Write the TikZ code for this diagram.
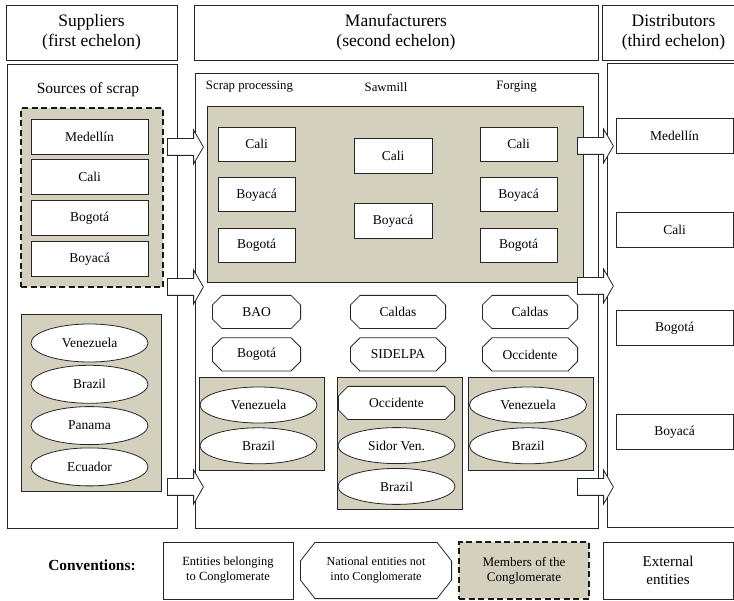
\documentclass[tikz,border=0pt]{standalone}
\usepackage{fontspec}
\setmainfont{Liberation Serif}
\usetikzlibrary{shapes.geometric, shapes.arrows, positioning}
\definecolor{memberfill}{RGB}{212,208,190}
\def\octx{10pt}
\def\octy{10pt}
\tikzset{
    echelon/.style={
        rectangle,
        draw=black!85,
        line width=0.8pt,
        minimum height=55pt,
        align=center,
        font=\fontsize{17.5}{20}\selectfont
    },
    panel/.style={
        rectangle,
        draw=black!85,
        line width=0.8pt,
        anchor=north west
    },
    member/.style={
        rectangle,
        draw=black!85,
        fill=memberfill,
        line width=0.8pt,
        anchor=north west
    },
    core/.style={
        line width=2.2pt,
        draw=black!90,
        dash pattern=on 6pt off 3.5pt
    },
    entity/.style={
        rectangle,
        draw=black!85,
        fill=white,
        line width=0.8pt,
        minimum width=117pt,
        minimum height=35pt,
        inner sep=0pt,
        align=center,
        font=\fontsize{13.5}{15}\selectfont
    },
    plant/.style={
        entity,
        minimum width=77pt,
        minimum height=34pt
    },
    octcut/.code 2 args={\def\octx{#1}\def\octy{#2}},
    national/.style={
        rectangle,
        minimum height=34pt,
        inner sep=0pt,
        align=center,
        font=\fontsize{13.5}{15}\selectfont,
        octcut={10pt}{10pt},
        path picture={
            \draw[draw=black!85, fill=white, line width=0.8pt]
                ([shift={(\octx,-0.4pt)}]path picture bounding box.north west)
                -- ([shift={(0.4pt,-\octy)}]path picture bounding box.north west)
                -- ([shift={(0.4pt,\octy)}]path picture bounding box.south west)
                -- ([shift={(\octx,0.4pt)}]path picture bounding box.south west)
                -- ([shift={(-\octx,0.4pt)}]path picture bounding box.south east)
                -- ([shift={(-0.4pt,\octy)}]path picture bounding box.south east)
                -- ([shift={(-0.4pt,-\octy)}]path picture bounding box.north east)
                -- ([shift={(-\octx,-0.4pt)}]path picture bounding box.north east)
                -- cycle;
        }
    },
    foreign/.style={
        ellipse,
        draw=black!85,
        fill=white,
        line width=0.8pt,
        minimum width=117pt,
        minimum height=38pt,
        inner sep=0pt,
        font=\fontsize{13.5}{15}\selectfont
    },
    colhead/.style={
        font=\fontsize{12.8}{15}\selectfont
    },
    flow/.style={
        single arrow,
        draw=black!85,
        fill=white,
        line width=0.8pt,
        inner xsep=0pt,
        inner ysep=8pt,
        minimum height=36pt,
        single arrow head extend=8.5pt,
        single arrow tip angle=120,
        anchor=tail
    },
}

\begin{document}
\begin{tikzpicture}[x=1pt, y=-1pt]

\useasboundingbox (0,0) rectangle (734,601);

% Echelon titles
\node[echelon, minimum width=171pt] (supTitle) at (91.5,32.5) {Suppliers\\(first echelon)};
\node[echelon, minimum width=404pt] (manTitle) at (396,32.5) {Manufacturers\\(second echelon)};
\node[echelon, minimum width=143pt] (disTitle) at (673.5,32.5) {Distributors\\(third echelon)};

% Echelon panels
\node[panel, minimum width=170pt, minimum height=464pt] (supPanel) at (7,64) {};
\node[panel, minimum width=403pt, minimum height=455pt] (manPanel) at (195,73) {};
\node[panel, minimum width=140pt, minimum height=464pt] (disPanel) at (607,63) {};

% Suppliers
\node[font=\fontsize{15.5}{18}\selectfont] (scrapSrc) at (88,90) {Sources of scrap};

\node[member, core, minimum width=142pt, minimum height=179pt] (supMembers) at (20,107) {};
\node[entity] (supMed) at (89.5,136.5) {Medellín};
\node[entity, below=5pt of supMed] (supCal) {Cali};
\node[entity, below=5pt of supCal] (supBog) {Bogotá};
\node[entity, below=5pt of supBog] (supBoy) {Boyacá};

\node[member, minimum width=140pt, minimum height=177pt] (supAbroad) at (21,314) {};
\node[foreign] (supVen) at (89.5,343) {Venezuela};
\node[foreign, below=2.5pt of supVen] (supBra) {Brazil};
\node[foreign, below=2.5pt of supBra] (supPan) {Panama};
\node[foreign, below=2.5pt of supPan] (supEcu) {Ecuador};

% Manufacturers
\node[colhead] (colScrap) at (249.5,87) {Scrap processing};
\node[colhead] (colSaw) at (386,87) {Sawmill};
\node[colhead] (colForge) at (516.5,87) {Forging};

\node[member, minimum width=376pt, minimum height=176pt] (manMembers) at (207,106) {};

% Scrap processing
\node[plant] (scrCal) at (256.5,144) {Cali};
\node[plant, below=16pt of scrCal] (scrBoy) {Boyacá};
\node[plant, below=16pt of scrBoy] (scrBog) {Bogotá};

% Sawmill
\node[plant, minimum width=78pt, minimum height=35pt] (sawCal) at (393,155.5) {Cali};
\node[plant, minimum width=78pt, minimum height=35pt, below=30pt of sawCal] (sawBoy) {Boyacá};

% Forging
\node[plant] (frgCal) at (518.5,144) {Cali};
\node[plant, below=16pt of frgCal] (frgBoy) {Boyacá};
\node[plant, below=16pt of frgBoy] (frgBog) {Bogotá};

% National plants
\node[national, minimum width=89pt] (scrBAO) at (256.5,312) {BAO};
\node[national, minimum width=89pt, below=8pt of scrBAO] (scrBogN) {Bogotá};
\node[national, minimum width=96pt] (sawCald) at (398,312) {Caldas};
\node[national, minimum width=96pt, below=8pt of sawCald] (sawSid) {SIDELPA};
\node[national, minimum width=96pt] (frgCald) at (530,312) {Caldas};
\node[national, minimum width=96pt, below=8pt of frgCald] (frgOcc) {Occidente};

% Plants abroad
\node[member, minimum width=125pt, minimum height=93pt] (scrAbroad) at (199,377) {};
\node[member, minimum width=125pt, minimum height=132pt] (sawAbroad) at (337,377) {};
\node[member, minimum width=125pt, minimum height=93pt] (frgAbroad) at (468,377) {};

\node[foreign, minimum height=36pt] (scrVen) at (258.5,405) {Venezuela};
\node[foreign, minimum height=36pt, below=4pt of scrVen] (scrBra) {Brazil};

\node[national, minimum width=117pt] (sawOcc) at (396.5,403) {Occidente};
\node[foreign, minimum height=36pt, below=7pt of sawOcc] (sawSidV) {Sidor Ven.};
\node[foreign, minimum height=36pt, below=4pt of sawSidV] (sawBra) {Brazil};

\node[foreign, minimum height=36pt] (frgVen) at (528,405) {Venezuela};
\node[foreign, minimum height=36pt, below=4pt of frgVen] (frgBra) {Brazil};

% Distributors
\node[entity] (disMed) at (674.5,136) {Medellín};
\node[entity] (disCal) at (674.5,229.5) {Cali};
\node[entity] (disBog) at (674.5,328) {Bogotá};
\node[entity] (disBoy) at (674.5,432) {Boyacá};

% Flows between echelons
\node[flow] (flowA) at (167,147) {};
\node[flow] (flowB) at (167,287) {};
\node[flow] (flowC) at (167,487) {};
\node[flow] (flowD) at (577,146) {};
\node[flow] (flowE) at (577,286) {};
\node[flow] (flowF) at (577,487) {};

% Conventions
\node[font=\bfseries\fontsize{15.4}{17}\selectfont] (conv) at (92,565) {Conventions:};
\node[entity, minimum width=130pt, minimum height=57pt, font=\fontsize{12.5}{15}\selectfont] (keyEntity) at (228,570.5) {Entities belonging\\to Conglomerate};
\node[national, minimum width=152pt, minimum height=57pt, octcut={15pt}{19pt}, font=\fontsize{12.2}{15}\selectfont] (keyNational) at (376,570.5) {National entities not\\into Conglomerate};
\node[member, core, anchor=center, minimum width=130pt, minimum height=57pt, align=center, font=\fontsize{13.1}{15}\selectfont] (keyMember) at (524,570.5) {Members of the\\Conglomerate};
\node[entity, minimum width=130pt, minimum height=57pt, font=\fontsize{15}{18}\selectfont] (keyExternal) at (668,570.5) {External\\entities};

\end{tikzpicture}
\end{document}
